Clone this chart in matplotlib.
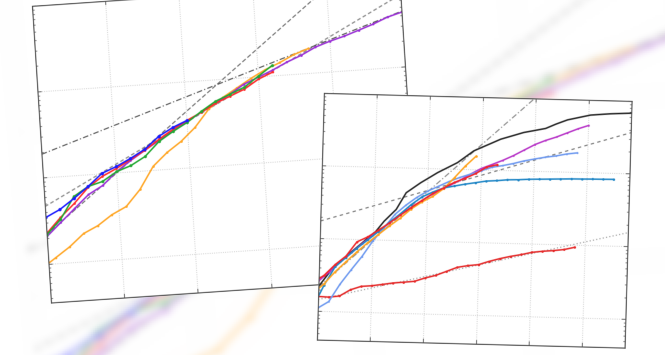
import numpy as np
import matplotlib
matplotlib.use("Agg")
import matplotlib.pyplot as plt
from matplotlib.transforms import Affine2D
from matplotlib.ticker import NullLocator

# ------------------------------------------------------------------
# Data (log-log panels)
# ------------------------------------------------------------------
# shared x grids: every 0.2 decade, and the same grid shifted by 0.1 decade
X_EVEN = [1, 1.58, 2.51, 3.98, 6.31, 10, 15.8, 25.1, 39.8, 63.1, 100, 158, 251,
          398, 631, 1000, 1580, 2510, 3980, 6310, 10000, 15800, 25100, 39800,
          63100, 100000]
X_ODD = [0.794, 1.26, 2.0, 3.16, 5.01, 7.94, 12.6, 20.0, 31.6, 50.1, 79.4, 126,
         200, 316, 501, 794, 1260, 2000, 3160, 5010, 7940, 12600, 20000, 31600,
         50100, 79400, 126000, 200000, 316000]

# left panel
BLUE_L = [3.48, 4.20, 5.50, 7.36, 10.2, 11.9, 14.4, 17.9, 24.6, 30.5, 35.9]
GREEN_L = [2.20, 3.21, 5.79, 7.36, 8.20, 10.4, 11.9, 14.8, 21.5, 27.4, 34.0,
           44.4, 56.6, 66.5, 78.0, 102, 133]
RED_L = [2.27, 3.38, 4.81, 7.18, 9.38, 11.3, 14.0, 17.4, 22.7, 29.0, 35.9,
         43.3, 53.7, 63.1, 74.1, 94.4, 111]
PURPLE_L = [2.09, 2.96, 4.20, 5.94, 7.37, 10.4, 13.6, 17.4, 22.1, 28.2, 34.9,
            43.3, 53.7, 66.6, 84.7, 99.5, 117, 141, 165, 200, 228, 254, 290,
            332, 390, 435]
ORANGE_L = [0.895, 1.17, 1.53, 2.12, 2.55, 3.33, 4.03, 6.19, 11.2, 15.8, 20.7,
            29.3, 46.5, 61.7, 77.6, 97.7, 120, 141, 170, 195]
REF_L_X = [1, 100000]
REF_L_GRAY = [4.67, 698]
REF_L_STEEP = [2.2, 4345]
REF_L_DASHDOT = [18.9, 446]

# right panel
BLACK_X = [1, 1.91, 4.47, 11.2, 15.8, 26.3, 39.8, 74.1, 151, 355, 708, 2240,
           6030, 15500, 24000, 39800, 107000, 257000, 631000]
BLACK_Y = [2.21, 4.22, 7.29, 13.2, 18.3, 26.8, 45.9, 63.8, 88.7, 124, 182, 269,
           339, 392, 453, 524, 621, 658, 682]
MAGENTA_R = [2.63, 3.55, 4.90, 6.61, 8.91, 11.7, 15.1, 20.0, 25.7, 32.4, 40.7,
             49.0, 58.9, 70.8, 87.1, 105, 120, 138, 162, 195, 234, 269, 302,
             347, 398, 447]
LIGHTBLUE_R = [1.12, 1.38, 2.40, 3.80, 5.89, 9.77, 14.8, 22.9, 30.9, 39.8, 49.0,
               57.5, 67.6, 77.6, 87.1, 97.7, 110, 117, 126, 138, 148, 158, 166,
               178, 186]
TEAL_R = [1.12, 2.29, 4.17, 5.62, 7.59, 10.0, 13.2, 17.8, 23.4, 31.6, 40.7,
          47.9, 55.0, 58.9, 63.1, 66.7, 70.8, 72.4, 75.0, 75.9, 77.6, 78.5,
          79.4, 80.4, 81.3, 81.7, 82.2, 82.6, 83.0]
ORANGE_R = [1.78, 2.40, 3.55, 4.90, 6.76, 9.12, 12.0, 15.8, 20.4, 27.5, 34.7,
            41.7, 53.7, 76.7, 112, 155]
RED_R = [2.51, 3.16, 4.47, 5.89, 9.33, 11.0, 13.8, 17.4, 22.4, 28.8, 36.3, 45.7,
         55.0, 66.1, 75.9, 89.1, 110, 120]
LOWRED_R = [1.61, 1.59, 1.66, 2.04, 2.29, 2.36, 2.48, 2.62, 2.71, 2.81, 3.15,
            3.45, 3.95, 4.53, 4.82, 5.02, 5.62, 6.18, 6.70, 7.14, 7.74, 8.07,
            8.32, 8.67, 9.40]
REF_R_X = [1, 631000]
REF_R_DASHED = [17.5, 368]
REF_R_STEEP = [2.18, 17000]
REF_R_DOTTED = [1.46, 15.6]


# ------------------------------------------------------------------
# Panel drawing
# ------------------------------------------------------------------
def style_panel(ax, ghost):
    ax.xaxis.set_minor_locator(NullLocator())
    ax.grid(True, which="major", ls=":", lw=0.6,
            color="#e6e6e6" if ghost else "#c4c4c4")
    ax.tick_params(which="both", direction="in", top=True, right=True,
                   labelbottom=False, labelleft=False, colors="#555555")
    ax.tick_params(which="major", length=3, width=0.6)
    ax.tick_params(which="minor", length=1.6, width=0.5)
    for s in ax.spines.values():
        s.set_linewidth(0.9)
        s.set_color("#505050")
        s.set_visible(not ghost)
    if ghost:
        ax.tick_params(which="both", length=0)


def draw_left(ax, ghost=False):
    ax.set_xscale("log")
    ax.set_yscale("log")
    ax.plot(REF_L_X, REF_L_GRAY, ls=(0, (3, 2)), color="#8c8c8c", lw=0.9)
    ax.plot(REF_L_X, REF_L_STEEP, ls=(0, (4, 2)), color="#707070", lw=0.8)
    ax.plot(REF_L_X, REF_L_DASHDOT, ls=(0, (5, 2, 1, 2)), color="#555555", lw=0.8)
    kw = dict(marker="o", lw=1.1, mew=0)
    ax.plot(X_ODD[:20], ORANGE_L, color="#ffa726", ms=1.8, **kw)
    ax.plot(X_EVEN[:26], PURPLE_L, color="#9a2fd6", ms=1.8, **kw)
    ax.plot(X_EVEN[:17], RED_L, color="#ff2a2a", ms=1.8, **kw)
    ax.plot(X_EVEN[:17], GREEN_L, color="#22a832", ms=2.2, **kw)
    ax.plot(X_EVEN[:11], BLUE_L, color="#1a1aff", ms=2.4, **kw)
    ax.set_xlim(1, 1e5)
    ax.set_ylim(10 ** -0.45, 1000)
    style_panel(ax, ghost)


def draw_right(ax, ghost=False):
    ax.set_xscale("log")
    ax.set_yscale("log")
    ax.plot(REF_R_X, REF_R_DASHED, ls=(0, (3, 3)), color="#777777", lw=0.8)
    ax.plot(REF_R_X, REF_R_STEEP, ls=(0, (5, 2, 1, 2)), color="#8a8a8a", lw=0.8)
    ax.plot(REF_R_X, REF_R_DOTTED, ls=(0, (1, 2)), color="#999999", lw=0.8)
    kw = dict(marker="o", lw=1.1, mew=0)
    ax.plot(X_EVEN[:25], LOWRED_R, color="#e52a2a", ms=1.8, **kw)
    ax.plot(BLACK_X, BLACK_Y, color="#262626", lw=1.1)
    ax.plot(X_EVEN[:26], MAGENTA_R, color="#b836c8", ms=1.4, **kw)
    ax.plot(X_EVEN[:25], LIGHTBLUE_R, color="#6f9af0", ms=1.4, **kw)
    ax.plot(X_ODD[:29], TEAL_R, color="#1f86c6", ms=1.8, **kw)
    ax.plot(X_ODD[:16], ORANGE_R, color="#ffa41f", ms=1.8, **kw)
    ax.plot(X_ODD[:18], RED_R, color="#f0262a", ms=1.8, **kw)
    ax.set_xlim(1, 10 ** 5.8)
    ax.set_ylim(10 ** -0.39, 1000)
    style_panel(ax, ghost)


# ------------------------------------------------------------------
# Off-screen rendering + placement helpers
# ------------------------------------------------------------------
def render(draw, w, h, dpi, ghost=False):
    """Render a panel to an RGBA array; axes box is w x h (final px)."""
    scale = dpi / 100
    pad = 4
    W, H = w * scale + 2 * pad, h * scale + 2 * pad
    f = plt.figure(figsize=(W / dpi, H / dpi), dpi=dpi)
    f.patch.set_alpha(0)
    a = f.add_axes([pad / W, pad / H, w * scale / W, h * scale / H])
    draw(a, ghost)
    f.canvas.draw()
    img = np.asarray(f.canvas.buffer_rgba()).astype(float) / 255.0
    plt.close(f)
    return img, (pad / (w * scale), pad / (h * scale))


def blur(img, sigma):
    r = int(3 * sigma)
    k = np.exp(-0.5 * (np.arange(-r, r + 1) / sigma) ** 2)
    k /= k.sum()
    out = img
    for axis in (0, 1):
        widths = [(r, r) if i == axis else (0, 0) for i in range(3)]
        padded = np.pad(out, widths, mode="edge")
        acc = np.zeros_like(out)
        for i, wgt in enumerate(k):
            sl = [slice(None)] * 3
            sl[axis] = slice(i, i + out.shape[axis])
            acc += wgt * padded[tuple(sl)]
        out = acc
    return np.clip(out, 0, 1)


def place(ax, img, pads, origin, u, v, **kw):
    px, py = pads
    m = Affine2D(np.array([[u[0], v[0], origin[0]],
                           [u[1], v[1], origin[1]],
                           [0, 0, 1]]))
    ax.imshow(img, extent=(-px, 1 + px, -py, 1 + py), origin="upper",
              transform=m + ax.transData, interpolation="antialiased", **kw)


# ------------------------------------------------------------------
# Compose the scene
# ------------------------------------------------------------------
fig = plt.figure(figsize=(6.65, 3.55), dpi=100)
ax = fig.add_axes([0, 0, 1, 1])
ax.axis("off")

# blurred, enlarged copy of the left panel in the background
ghost_img, ghost_pads = render(draw_left, 368, 297, dpi=100, ghost=True)
ghost_img = blur(ghost_img, 2.0)
place(ax, ghost_img, ghost_pads, (46.7, 534.0), (836.8, -47.9), (-43.3, -566.8),
      alpha=0.48)

left_img, left_pads = render(draw_left, 368, 297, dpi=200)
place(ax, left_img, left_pads, (51, 303), (367, -25), (-19, -296))

right_img, right_pads = render(draw_right, 307, 246, dpi=200)
place(ax, right_img, right_pads, (317, 340), (307, 8), (7, -246))

ax.set_xlim(0, 665)
ax.set_ylim(355, 0)
ax.set_aspect("auto")

fig.savefig("out.png", dpi=100, facecolor="white")
